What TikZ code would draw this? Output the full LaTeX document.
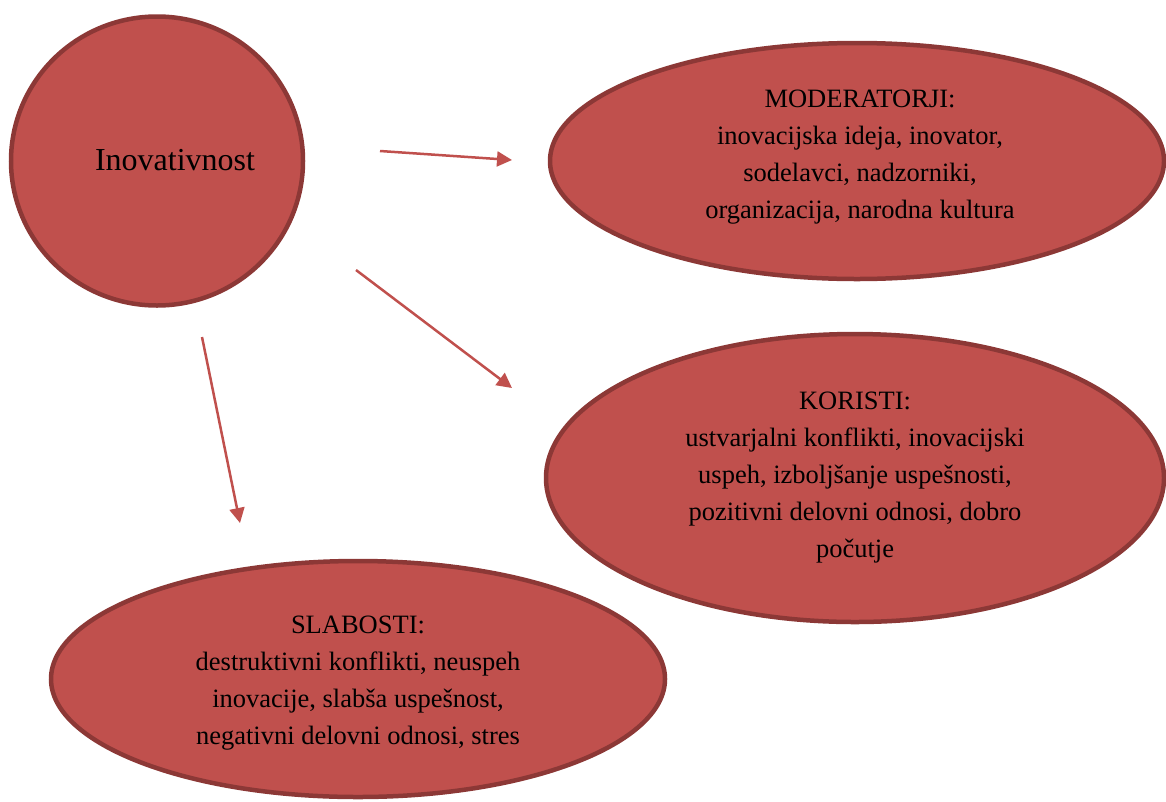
\documentclass[tikz,border=0pt]{standalone}
\usepackage{fontspec}
\setmainfont{Liberation Serif}
\usetikzlibrary{shapes.geometric,arrows.meta}
\definecolor{bubblefill}{HTML}{C0504D}
\definecolor{bubbleline}{HTML}{8C3836}
\definecolor{arrowred}{HTML}{C0504D}
\tikzset{
  bubble/.style={ellipse, fill=bubblefill, draw=bubbleline, line width=4.5pt,
    inner sep=0pt, align=center, text=black,
    font=\fontsize{26.5}{37}\selectfont},
  link/.style={draw=arrowred, line width=2.5pt,
    -{Triangle[length=15pt,width=15pt]}}
}
\begin{document}
\begin{tikzpicture}[x=1pt,y=-1pt]
  \useasboundingbox (0,0) rectangle (1166,801);

  % central idea
  \node[bubble, minimum width=292pt, minimum height=289pt] (inov) at (157,161) {};
  \node[font=\fontsize{32}{38}\selectfont] (inovtext) at (175,160) {Inovativnost};

  % moderators
  \node[bubble, minimum width=614pt, minimum height=236pt] (mod) at (857,161) {};
  \node[align=center, font=\fontsize{26.5}{37}\selectfont] (modtext) at (860,157)
    {MODERATORJI:\\ inovacijska ideja, inovator,\\ sodelavci, nadzorniki,\\ organizacija, narodna kultura};

  % benefits
  \node[bubble, minimum width=618pt, minimum height=288pt] (kor) at (855,478)
    {KORISTI:\\ ustvarjalni konflikti, inovacijski\\ uspeh, izboljšanje uspešnosti,\\ pozitivni delovni odnosi, dobro\\ počutje};

  % weaknesses
  \node[bubble, minimum width=614pt, minimum height=236pt] (slab) at (358,679) {};
  \node[align=center, font=\fontsize{26.5}{37}\selectfont] (slabtext) at (358,683)
    {SLABOSTI:\\ destruktivni konflikti, neuspeh\\ inovacije, slabša uspešnost,\\ negativni delovni odnosi, stres};

  % free-standing arrow ends
  \coordinate (a1s) at (380,151);
  \coordinate (a1e) at (512,160);
  \coordinate (a2s) at (356,270);
  \coordinate (a2e) at (512,388);
  \coordinate (a3s) at (202,337);
  \coordinate (a3e) at (240,523);

  \draw[link] (a1s) -- (a1e);
  \draw[link] (a2s) -- (a2e);
  \draw[link] (a3s) -- (a3e);
\end{tikzpicture}
\end{document}
